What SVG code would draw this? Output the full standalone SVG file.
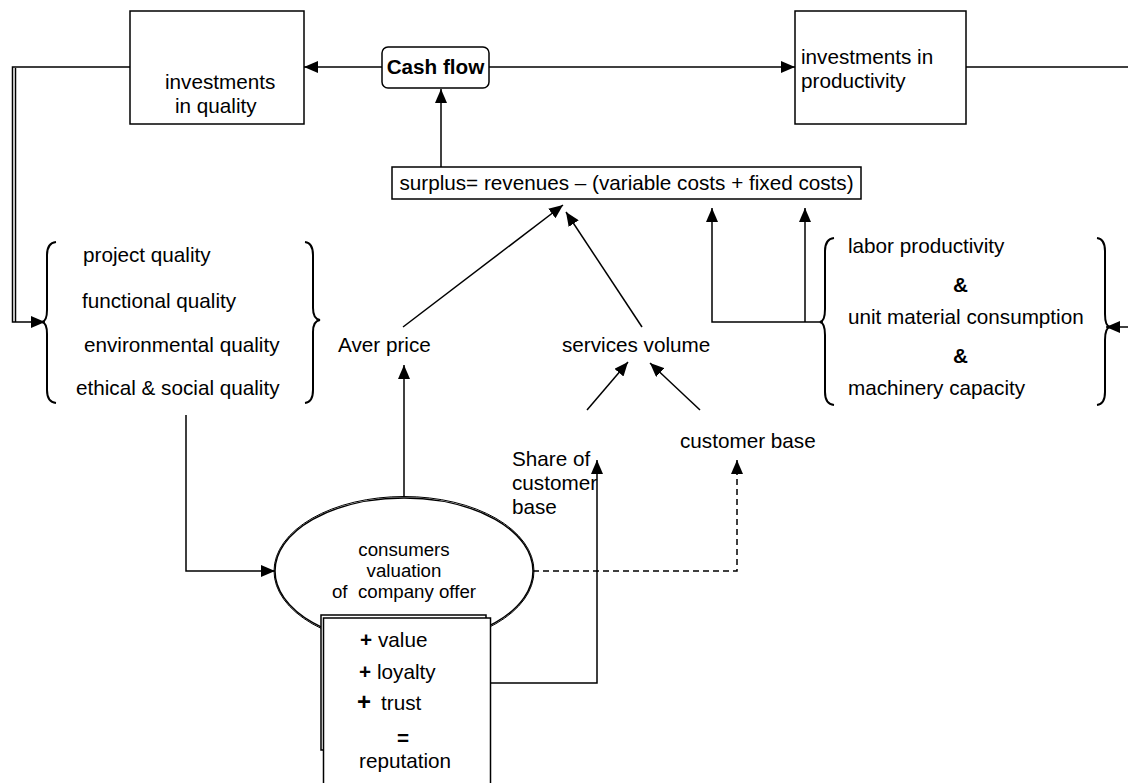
<svg xmlns="http://www.w3.org/2000/svg" width="1128" height="783" viewBox="0 0 1128 783">
<style>
text{font-family:"Liberation Sans",Arial,sans-serif;font-size:20.7px;fill:#000}
.sm{font-size:18.7px}
.b{font-weight:bold}
.box{fill:#fff;stroke:#000;stroke-width:1.5}
.ln{fill:none;stroke:#000;stroke-width:1.5}
.ar{fill:none;stroke:#000;stroke-width:1.5;marker-end:url(#ah)}
.br{fill:none;stroke:#000;stroke-width:2}
</style>
<defs>
<marker id="ah" viewBox="0 0 14 12" refX="14" refY="6" markerWidth="14" markerHeight="12" markerUnits="userSpaceOnUse" orient="auto">
<path d="M0,0 L14,6 L0,12 Z" fill="#000"/>
</marker>
</defs>
<rect width="1128" height="783" fill="#fff"/>
<g id="connectors">
<line class="ar" x1="382" y1="67" x2="304" y2="67"/>
<line class="ar" x1="489" y1="67" x2="795" y2="67"/>
<line class="ln" x1="966" y1="67" x2="1128" y2="67"/>
<line class="ar" x1="1128" y1="327" x2="1106" y2="327"/>
<line class="ar" x1="441" y1="167" x2="441" y2="89"/>
<path class="ar" d="M130,67 H12.5 V322 H45"/>
<line class="ln" x1="15.5" y1="68" x2="15.5" y2="322"/>
<line class="ar" x1="403" y1="327" x2="563" y2="205"/>
<line class="ar" x1="642" y1="327" x2="566" y2="212"/>
<line class="ar" x1="587" y1="410" x2="628" y2="362"/>
<line class="ar" x1="700" y1="410" x2="650" y2="363"/>
<path class="ar" d="M823,322 H712 V208"/>
<line class="ar" x1="805" y1="322" x2="805" y2="208"/>
<line class="ar" x1="404" y1="497" x2="404" y2="365"/>
<path class="ar" d="M186,415 V571 H275"/>
<path class="ar" d="M487,683 H597 V460"/>
<path class="ar" d="M533,571 H737 V460" stroke-dasharray="6,4"/>
</g>
<g id="inv-quality">
<rect class="box" x="130" y="11" width="174" height="113"/>
<text x="165" y="89">investments</text>
<text x="175" y="113">in quality</text>
</g>
<g id="cash-flow">
<rect class="box" x="382" y="47" width="107" height="41" rx="6"/>
<text class="b" x="435.5" y="74" text-anchor="middle">Cash flow</text>
</g>
<g id="inv-productivity">
<rect class="box" x="795" y="11" width="171" height="113"/>
<text x="801" y="64">investments in</text>
<text x="801" y="88">productivity</text>
</g>
<g id="surplus">
<rect class="box" x="392" y="167" width="469" height="32"/>
<text x="626.5" y="190" text-anchor="middle">surplus= revenues – (variable costs + fixed costs)</text>
</g>
<g id="quality-group">
<path class="br" d="M56,242 Q47,243 47,255 V310 Q47,321 42,322 Q47,323 47,334 V390 Q47,402 56,403"/>
<path class="br" d="M305,242 Q313,243 313,255 V308 Q313,319 320,320 Q313,321 313,332 V390 Q313,402 305,403"/>
<text x="83" y="262">project quality</text>
<text x="82" y="308">functional quality</text>
<text x="84" y="352">environmental quality</text>
<text x="76" y="395">ethical &amp; social quality</text>
</g>
<g id="aver-price">
<text x="338" y="352">Aver price</text>
</g>
<g id="services-volume">
<text x="562" y="352">services volume</text>
</g>
<g id="productivity-group">
<path class="br" d="M834,238 Q825,239 825,251 V309 Q825,321 820,322 Q825,323 825,335 V392 Q825,404 834,405"/>
<path class="br" d="M1097,238 Q1105,239 1105,251 V314 Q1105,326 1110,327 Q1105,328 1105,340 V392 Q1105,404 1097,405"/>
<text x="848" y="253">labor productivity</text>
<text class="b" x="953" y="292">&amp;</text>
<text x="848" y="324">unit material consumption</text>
<text class="b" x="953" y="363">&amp;</text>
<text x="848" y="395">machinery capacity</text>
</g>
<g id="customer-base">
<text x="680" y="448">customer base</text>
</g>
<g id="share-customer-base">
<text x="512" y="466">Share of</text>
<text x="512" y="490">customer</text>
<text x="512" y="514">base</text>
</g>
<g id="consumers-valuation">
<ellipse cx="404" cy="571" rx="129" ry="73" fill="#fff" stroke="#000" stroke-width="1.5"/>
<ellipse cx="404" cy="571" rx="130" ry="74.5" fill="none" stroke="#000" stroke-width="1"/>
<text class="sm" x="404" y="556" text-anchor="middle">consumers</text>
<text class="sm" x="404" y="577" text-anchor="middle">valuation</text>
<text class="sm" x="404" y="598" text-anchor="middle" xml:space="preserve">of  company offer</text>
</g>
<g id="reputation">
<rect class="box" x="321" y="615" width="165" height="135"/>
<rect class="box" x="323.5" y="618" width="167" height="180"/>
<text class="b" x="360" y="647">+</text><text x="378" y="647">value</text>
<text class="b" x="359" y="679">+</text><text x="377" y="679">loyalty</text>
<text class="b" x="357" y="710" style="font-size:24px">+</text><text x="381" y="710">trust</text>
<text class="b" x="397" y="745">=</text>
<text x="359" y="768">reputation</text>
</g>
</svg>
